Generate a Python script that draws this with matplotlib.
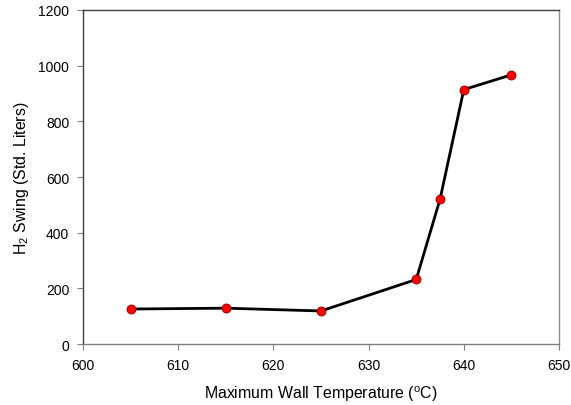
import matplotlib
matplotlib.use("Agg")
import matplotlib.pyplot as plt

temps = [605, 615, 625, 635, 637.5, 640, 645]
swing = [126, 129, 119, 232, 520, 914, 967]
xticks = [600, 610, 620, 630, 640, 650]
yticks = [0, 200, 400, 600, 800, 1000, 1200]

plt.rcParams['font.family'] = ['Liberation Sans', 'DejaVu Sans']
fig = plt.figure(figsize=(5.71, 4.06), dpi=100)
ax = fig.add_axes([0.1454, 0.150, 0.8336, 0.823])
ax.plot(temps, swing, color='black', lw=2, marker='o', markersize=6.5,
        markerfacecolor='#ff0000', markeredgecolor='#800000', markeredgewidth=0.6, zorder=3)
ax.set_xlim(600, 650)
ax.set_ylim(0, 1200)
ax.set_xticks(xticks)
ax.set_yticks(yticks)
ax.tick_params(direction='out', length=4, color='#808080', labelsize=10, pad=6)
for s in ax.spines.values():
    s.set_color('#404040')
    s.set_linewidth(1)
ax.spines['bottom'].set_color('#808080')
ax.spines['right'].set_color('#909090')
ax.set_xlabel('Maximum Wall Temperature ($^\\mathregular{o}$C)', fontsize=11.4, labelpad=8)
ax.set_ylabel('H$_\\mathregular{2}$ Swing (Std. Liters)', fontsize=11.4, labelpad=5)
fig.savefig('out.png', dpi=100)
